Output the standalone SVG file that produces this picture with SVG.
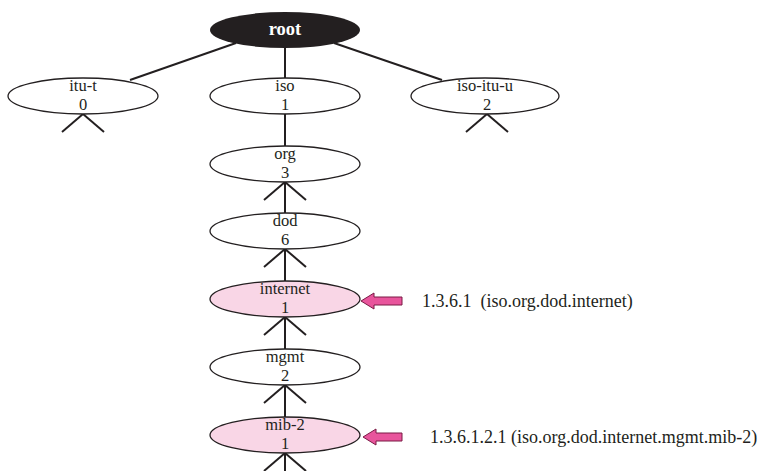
<svg xmlns="http://www.w3.org/2000/svg" width="771" height="471" viewBox="0 0 771 471">
<style>
.n{fill:#fff;stroke:#231f20;stroke-width:1.3}
.p{fill:#f9d6e6;stroke:#231f20;stroke-width:1.3}
.t{font-family:"Liberation Serif","Times New Roman",serif;font-size:16.5px;fill:#231f20;text-anchor:middle}
.a{font-family:"Liberation Serif","Times New Roman",serif;font-size:18px;fill:#231f20}
.c line{stroke:#231f20;stroke-width:2}
.arr{fill:#e8559c;stroke:#7a1a45;stroke-width:1}
</style>
<rect width="771" height="471" fill="#fff"/>
<g class="c" id="connectors">
<line x1="236" y1="43" x2="130" y2="80"/>
<line x1="334" y1="43" x2="442" y2="80"/>
<line x1="285" y1="48" x2="285" y2="78"/>
<line x1="83" y1="114" x2="62" y2="132"/><line x1="83" y1="114" x2="104" y2="132"/>
<line x1="487" y1="114" x2="466" y2="132"/><line x1="487" y1="114" x2="508" y2="132"/>
<line x1="285" y1="114" x2="285" y2="147"/>
<line x1="285" y1="182" x2="285" y2="213"/>
<line x1="285" y1="182" x2="264" y2="200"/><line x1="285" y1="182" x2="306" y2="200"/>
<line x1="285" y1="249" x2="285" y2="282"/>
<line x1="285" y1="249" x2="264" y2="267"/><line x1="285" y1="249" x2="306" y2="267"/>
<line x1="285" y1="317" x2="285" y2="349"/>
<line x1="285" y1="317" x2="264" y2="335"/><line x1="285" y1="317" x2="306" y2="335"/>
<line x1="285" y1="385" x2="285" y2="417"/>
<line x1="285" y1="385" x2="264" y2="403"/><line x1="285" y1="385" x2="306" y2="403"/>
<line x1="285" y1="453" x2="285" y2="471"/>
<line x1="285" y1="453" x2="264" y2="471"/><line x1="285" y1="453" x2="306" y2="471"/>
</g>
<g id="root">
<ellipse cx="285" cy="30" rx="75" ry="18" fill="#231f20"/>
<text x="285" y="35" class="t" style="fill:#fff;font-weight:bold;font-size:18.5px">root</text>
</g>
<g id="itu-t">
<ellipse class="n" cx="83" cy="96" rx="75" ry="18"/>
<text class="t"><tspan x="83" y="91">itu-t</tspan><tspan x="83" y="110">0</tspan></text>
</g>
<g id="iso">
<ellipse class="n" cx="285" cy="96" rx="75" ry="18"/>
<text class="t"><tspan x="285" y="91">iso</tspan><tspan x="285" y="110">1</tspan></text>
</g>
<g id="iso-itu-u">
<ellipse class="n" cx="485" cy="96" rx="74" ry="18"/>
<text class="t"><tspan x="485" y="91">iso-itu-u</tspan><tspan x="487" y="110">2</tspan></text>
</g>
<g id="org">
<ellipse class="n" cx="285" cy="164" rx="75" ry="18"/>
<text class="t"><tspan x="285" y="159">org</tspan><tspan x="285" y="178">3</tspan></text>
</g>
<g id="dod">
<ellipse class="n" cx="285" cy="231" rx="75" ry="18"/>
<text class="t"><tspan x="285" y="226">dod</tspan><tspan x="285" y="245">6</tspan></text>
</g>
<g id="internet">
<ellipse class="p" cx="285" cy="299" rx="75" ry="18"/>
<text class="t"><tspan x="285" y="294">internet</tspan><tspan x="285" y="313">1</tspan></text>
</g>
<g id="mgmt">
<ellipse class="n" cx="285" cy="367" rx="75" ry="18"/>
<text class="t"><tspan x="285" y="362">mgmt</tspan><tspan x="285" y="381">2</tspan></text>
</g>
<g id="mib-2">
<ellipse class="p" cx="285" cy="435" rx="75" ry="18"/>
<text class="t"><tspan x="285" y="430">mib-2</tspan><tspan x="285" y="449">1</tspan></text>
</g>
<g id="internet-oid">
<polygon class="arr" points="361,301 374,293 374,297 402,297 402,305 374,305 374,309"/>
<text x="422" y="307" class="a" xml:space="preserve">1.3.6.1  (iso.org.dod.internet)</text>
</g>
<g id="mib2-oid">
<polygon class="arr" points="363,437 376,429 376,433 402,433 402,441 376,441 376,445"/>
<text x="430" y="443" class="a">1.3.6.1.2.1 (iso.org.dod.internet.mgmt.mib-2)</text>
</g>
</svg>
